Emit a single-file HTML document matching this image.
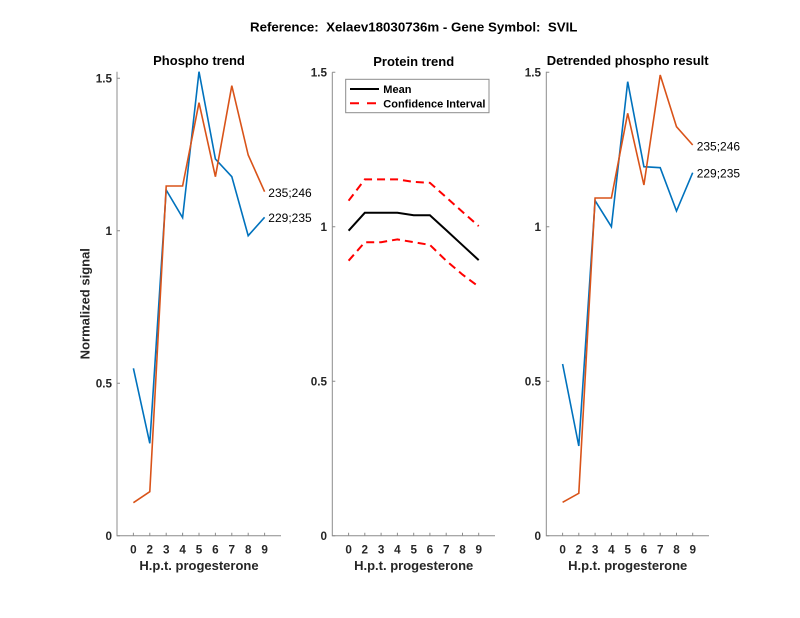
<!DOCTYPE html>
<html>
<head>
<meta charset="utf-8">
<style>
  html, body { margin: 0; padding: 0; background: #ffffff; }
  svg { display: block; }
  text { font-family: "Liberation Sans", Arial, sans-serif; fill: #000; }
  .tk { font-size: 11.7px; font-weight: bold; fill: #262626; }
  .ttl { font-size: 13px; font-weight: bold; }
  .lbl { font-size: 13px; font-weight: bold; fill: #262626; }
  .dl { font-size: 12px; }
  .ax { stroke: #8c8c8c; stroke-width: 1; fill: none; }
</style>
</head>
<body>
<svg width="800" height="618" viewBox="0 0 800 618" xmlns="http://www.w3.org/2000/svg">
  <rect width="800" height="618" fill="#ffffff"/>

  <!-- Main title -->
  <text class="ttl" style="font-size:13.3px" x="413.7" y="31.5" text-anchor="middle">Reference:&#160; Xelaev18030736m - Gene Symbol:&#160; SVIL</text>

  <!-- ============ LEFT PANEL ============ -->
  <text class="ttl" x="199" y="65" text-anchor="middle">Phospho trend</text>
  <path class="ax" d="M117,71.7 V535.7 H281"/>
  <path class="ax" d="M117,535.7 h3 M117,383.3 h3 M117,230.8 h3 M117,78.3 h3"/>
  <text class="tk" x="112" y="539.9" text-anchor="end">0</text>
  <text class="tk" x="112" y="387.5" text-anchor="end">0.5</text>
  <text class="tk" x="112" y="235" text-anchor="end">1</text>
  <text class="tk" x="112" y="82.5" text-anchor="end">1.5</text>
  <path class="ax" d="M133.4,535.7 v-3 M149.8,535.7 v-3 M166.2,535.7 v-3 M182.6,535.7 v-3 M199,535.7 v-3 M215.4,535.7 v-3 M231.8,535.7 v-3 M248.2,535.7 v-3 M264.6,535.7 v-3"/>
  <text class="tk" x="133.4" y="553.3" text-anchor="middle">0</text>
  <text class="tk" x="149.8" y="553.3" text-anchor="middle">2</text>
  <text class="tk" x="166.2" y="553.3" text-anchor="middle">3</text>
  <text class="tk" x="182.6" y="553.3" text-anchor="middle">4</text>
  <text class="tk" x="199" y="553.3" text-anchor="middle">5</text>
  <text class="tk" x="215.4" y="553.3" text-anchor="middle">6</text>
  <text class="tk" x="231.8" y="553.3" text-anchor="middle">7</text>
  <text class="tk" x="248.2" y="553.3" text-anchor="middle">8</text>
  <text class="tk" x="264.6" y="553.3" text-anchor="middle">9</text>
  <text class="lbl" x="199" y="570" text-anchor="middle">H.p.t. progesterone</text>
  <text class="lbl" transform="translate(89.3,303.7) rotate(-90)" text-anchor="middle">Normalized signal</text>
  <polyline fill="none" stroke="#0072BD" stroke-width="1.6"
    points="133.4,368.3 149.8,443.3 166.2,190 182.6,217.7 199,71.7 215.4,159 231.8,176.7 248.2,235.7 264.6,217.3"/>
  <polyline fill="none" stroke="#D95319" stroke-width="1.6"
    points="133.4,502.7 149.8,491.7 166.2,186 182.6,186 199,102.7 215.4,176.7 231.8,85.7 248.2,155 264.6,191.7"/>
  <text class="dl" x="268.3" y="197">235;246</text>
  <text class="dl" x="268.3" y="222">229;235</text>

  <!-- ============ MIDDLE PANEL ============ -->
  <text class="ttl" x="413.7" y="66" text-anchor="middle">Protein trend</text>
  <path class="ax" d="M332.3,72.2 V535.7 H495"/>
  <path class="ax" d="M332.3,535.7 h3 M332.3,381.2 h3 M332.3,226.7 h3 M332.3,72.2 h3"/>
  <text class="tk" x="327" y="539.9" text-anchor="end">0</text>
  <text class="tk" x="327" y="385.4" text-anchor="end">0.5</text>
  <text class="tk" x="327" y="230.9" text-anchor="end">1</text>
  <text class="tk" x="327" y="76.4" text-anchor="end">1.5</text>
  <path class="ax" d="M348.6,535.7 v-3 M364.8,535.7 v-3 M381.1,535.7 v-3 M397.4,535.7 v-3 M413.7,535.7 v-3 M429.9,535.7 v-3 M446.2,535.7 v-3 M462.5,535.7 v-3 M478.7,535.7 v-3"/>
  <text class="tk" x="348.6" y="553.3" text-anchor="middle">0</text>
  <text class="tk" x="364.8" y="553.3" text-anchor="middle">2</text>
  <text class="tk" x="381.1" y="553.3" text-anchor="middle">3</text>
  <text class="tk" x="397.4" y="553.3" text-anchor="middle">4</text>
  <text class="tk" x="413.7" y="553.3" text-anchor="middle">5</text>
  <text class="tk" x="429.9" y="553.3" text-anchor="middle">6</text>
  <text class="tk" x="446.2" y="553.3" text-anchor="middle">7</text>
  <text class="tk" x="462.5" y="553.3" text-anchor="middle">8</text>
  <text class="tk" x="478.7" y="553.3" text-anchor="middle">9</text>
  <text class="lbl" x="413.7" y="570" text-anchor="middle">H.p.t. progesterone</text>
  <polyline fill="none" stroke="#ff0000" stroke-width="2" stroke-dasharray="8,5"
    points="348.6,200.7 364.8,179.4 381.1,179.4 397.4,179.4 413.7,181.9 429.9,182.8 446.2,197.3 462.5,211.9 478.7,226.1"/>
  <polyline fill="none" stroke="#ff0000" stroke-width="2" stroke-dasharray="8,5"
    points="348.6,260.7 364.8,242.2 381.1,242.2 397.4,239.4 413.7,242.2 429.9,244.9 446.2,260.7 462.5,274.6 478.7,286.6"/>
  <polyline fill="none" stroke="#000000" stroke-width="2"
    points="348.6,230.7 364.8,212.8 381.1,212.8 397.4,212.8 413.7,215.3 429.9,215.3 446.2,230.1 462.5,245.2 478.7,260.1"/>
  <rect x="345.7" y="79.3" width="143.3" height="33.4" fill="#ffffff" stroke="#8c8c8c" stroke-width="1"/>
  <line x1="350" y1="89" x2="379" y2="89" stroke="#000" stroke-width="2"/>
  <line x1="350" y1="103.3" x2="379" y2="103.3" stroke="#ff0000" stroke-width="2" stroke-dasharray="9,8"/>
  <text x="383.3" y="93" style="font-size:11px;font-weight:bold;">Mean</text>
  <text x="383.3" y="107.3" style="font-size:11px;font-weight:bold;">Confidence Interval</text>

  <!-- ============ RIGHT PANEL ============ -->
  <text class="ttl" x="627.7" y="65" text-anchor="middle">Detrended phospho result</text>
  <path class="ax" d="M546.3,71.7 V535.7 H709"/>
  <path class="ax" d="M546.3,535.7 h3 M546.3,381.2 h3 M546.3,226.7 h3 M546.3,72.2 h3"/>
  <text class="tk" x="541" y="539.9" text-anchor="end">0</text>
  <text class="tk" x="541" y="385.4" text-anchor="end">0.5</text>
  <text class="tk" x="541" y="230.9" text-anchor="end">1</text>
  <text class="tk" x="541" y="76.4" text-anchor="end">1.5</text>
  <path class="ax" d="M562.6,535.7 v-3 M578.8,535.7 v-3 M595.1,535.7 v-3 M611.4,535.7 v-3 M627.7,535.7 v-3 M643.9,535.7 v-3 M660.2,535.7 v-3 M676.5,535.7 v-3 M692.7,535.7 v-3"/>
  <text class="tk" x="562.6" y="553.3" text-anchor="middle">0</text>
  <text class="tk" x="578.8" y="553.3" text-anchor="middle">2</text>
  <text class="tk" x="595.1" y="553.3" text-anchor="middle">3</text>
  <text class="tk" x="611.4" y="553.3" text-anchor="middle">4</text>
  <text class="tk" x="627.7" y="553.3" text-anchor="middle">5</text>
  <text class="tk" x="643.9" y="553.3" text-anchor="middle">6</text>
  <text class="tk" x="660.2" y="553.3" text-anchor="middle">7</text>
  <text class="tk" x="676.5" y="553.3" text-anchor="middle">8</text>
  <text class="tk" x="692.7" y="553.3" text-anchor="middle">9</text>
  <text class="lbl" x="627.7" y="570" text-anchor="middle">H.p.t. progesterone</text>
  <polyline fill="none" stroke="#0072BD" stroke-width="1.6"
    points="562.6,364 578.8,446 595.1,200.7 611.4,226.7 627.7,81.7 643.9,166.7 660.2,167.7 676.5,211 692.7,172.7"/>
  <polyline fill="none" stroke="#D95319" stroke-width="1.6"
    points="562.6,502.3 578.8,493.3 595.1,198 611.4,198 627.7,113.3 643.9,185 660.2,75 676.5,126.7 692.7,145"/>
  <text class="dl" x="696.7" y="150.3">235;246</text>
  <text class="dl" x="696.7" y="177.6">229;235</text>
</svg>
</body>
</html>
